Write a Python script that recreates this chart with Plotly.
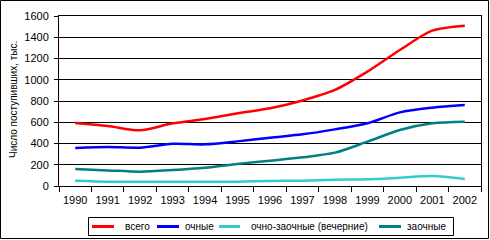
import plotly.graph_objects as go

years = [str(y) for y in range(1990, 2003)]
vsego = [593, 565, 524, 590, 630, 684, 731, 805, 904, 1076, 1280, 1462, 1509]
ochnye = [358, 367, 361, 398, 392, 420, 455, 486, 533, 590, 693, 737, 762]
ochno_zaochnye = [50, 41, 41, 41, 41, 41, 48, 50, 59, 63, 78, 94, 66]
zaochnye = [160, 147, 135, 150, 172, 207, 238, 270, 314, 417, 527, 590, 605]

names = ["всего", "очные", "очно-заочные (вечерние)", "заочные"]
colors = ["#FF0000", "#0000FF", "#33CCCC", "#008080"]
series = [vsego, ochnye, ochno_zaochnye, zaochnye]

W, H = 490, 240
L, R, T, B = 59, 9, 16, 54
PW, PH = W - L - R, H - T - B

def px(x):
    return (x - L) / PW

def py(y):
    return (H - B - y) / PH

FONT = "Arial, 'Liberation Sans', sans-serif"

fig = go.Figure()
for n, c, s in zip(names, colors, series):
    fig.add_trace(go.Scatter(x=years, y=s, name=n, mode="lines", showlegend=False,
                             line=dict(color=c, width=2.5, shape="spline", smoothing=0.8)))

fig.update_layout(
    width=W, height=H,
    margin=dict(l=L, r=R, t=T, b=B, pad=0, autoexpand=False),
    paper_bgcolor="white", plot_bgcolor="white",
    font=dict(family=FONT, color="black", size=11),
    showlegend=False,
    xaxis=dict(type="category", range=[-0.5, 12.5], showgrid=False, automargin=False,
               showline=True, linecolor="black", linewidth=1, mirror=True,
               ticks="outside", ticklen=5, tickcolor="black", tickson="boundaries",
               tickangle=0, tickfont=dict(size=11), ticklabelstandoff=4, fixedrange=True),
    yaxis=dict(range=[0, 1600], dtick=200, showgrid=True, gridcolor="black", gridwidth=1,
               showline=True, linecolor="black", linewidth=1, mirror=True, automargin=False,
               ticks="outside", ticklen=4, tickcolor="black",
               tickfont=dict(size=11), ticklabelstandoff=3, zeroline=False, fixedrange=True),
)

fig.add_annotation(text="Число поступивших, тыс.", textangle=-90,
                   xref="paper", yref="paper", x=px(13), y=py(100),
                   xanchor="center", yanchor="middle", showarrow=False,
                   font=dict(size=10, family=FONT))

# outer chart border
fig.add_shape(type="rect", xref="paper", yref="paper",
              x0=px(0.5), x1=px(488.5), y0=py(238.5), y1=py(0.5),
              line=dict(color="black", width=1), layer="below")

# legend (drawn manually to match the reference box)
fig.add_shape(type="rect", xref="paper", yref="paper",
              x0=px(88.5), x1=px(453.5), y0=py(235.5), y1=py(217.5),
              line=dict(color="black", width=1), fillcolor="white", layer="above")
legend_lines = [(92, 114), (157, 179), (219, 240), (379, 401)]
legend_text_x = [124, 184, 250, 406]
ly = 226.5
for (a, b), tx, n, c in zip(legend_lines, legend_text_x, names, colors):
    fig.add_shape(type="line", xref="paper", yref="paper",
                  x0=px(a), x1=px(b), y0=py(ly), y1=py(ly),
                  line=dict(color=c, width=3), layer="above")
    fig.add_annotation(text=n, xref="paper", yref="paper", x=px(tx), y=py(ly),
                       xanchor="left", yanchor="middle", showarrow=False,
                       font=dict(size=10, family=FONT), borderpad=0)

fig.write_html("out.html")
